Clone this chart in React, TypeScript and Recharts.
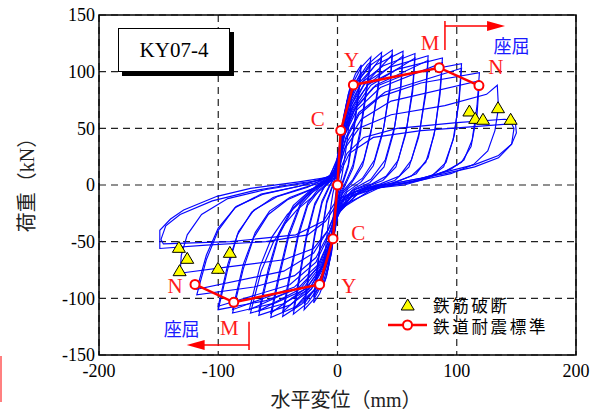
import React from 'react';
import {
  ComposedChart,
  Line,
  Scatter,
  XAxis,
  YAxis,
  CartesianGrid,
  ReferenceLine,
  ReferenceArea
} from 'recharts';

type P = [number, number];

const SERIF = '"Liberation Serif", "Times New Roman", "Noto Sans CJK JP", serif';
const CJK = '"Noto Sans CJK JP", "Noto Sans CJK SC", sans-serif';

// hysteresis cycles, displacement (mm) vs load (kN)
const cycles: P[][] = [
  [[0,0],[2,22],[4,40],[3,28],[1,8],[0,-4],[-2,-22],[-4,-40],[-3,-28],[-1,-8],[0,2]],
  [[0,2],[2,25],[5,55],[8,75],[6,52],[3,22],[0,-5],[-2,-25],[-5,-55],[-8,-75],[-6,-52],[-3,-22],[0,5]],
  [[0,5],[2,28],[5,58],[9,80],[13,92],[11,68],[8,38],[4,10],[0,-10],[-2,-30],[-5,-58],[-9,-80],[-13,-92],[-11,-66],[-8,-36],[-4,-8],[0,10]],
  [[0,10],[2,32],[5,60],[10,84],[15,98],[20,106],[17,78],[13,45],[9,18],[4,2],[0,-14],[-2,-34],[-5,-60],[-10,-83],[-15,-96],[-20,-104],[-17,-76],[-13,-42],[-9,-16],[-4,-1],[0,14]],
  [[0,8],[3,34],[7,62],[13,86],[20,100],[17,74],[13,42],[9,16],[4,0],[0,-12],[-3,-34],[-7,-62],[-13,-85],[-20,-99],[-17,-72],[-13,-40],[-9,-14],[-4,0],[0,12]],
  [[0,14],[2,35],[6,64],[12,88],[20,104],[28,113],[24,84],[19,48],[13,18],[7,3],[2,-8],[0,-20],[-2,-38],[-6,-64],[-12,-86],[-20,-101],[-28,-110],[-24,-80],[-19,-45],[-13,-16],[-7,-2],[-2,8],[0,20]],
  [[0,12],[3,36],[8,64],[15,88],[28,108],[24,80],[19,44],[13,15],[7,1],[2,-10],[0,-18],[-3,-38],[-8,-64],[-15,-86],[-28,-105],[-24,-76],[-19,-42],[-13,-14],[-7,-1],[-2,8],[0,16]],
  [[0,18],[3,40],[8,68],[15,90],[25,106],[37,117],[34,88],[29,52],[22,22],[13,5],[5,-5],[1,-15],[0,-24],[-3,-42],[-8,-68],[-15,-89],[-25,-104],[-37,-114],[-32,-84],[-26,-47],[-19,-18],[-12,-3],[-5,5],[-1,14],[0,24]],
  [[0,16],[4,40],[10,66],[20,90],[37,113],[34,84],[28,46],[21,17],[12,2],[4,-8],[0,-22],[-4,-42],[-10,-66],[-20,-89],[-37,-110],[-32,-80],[-26,-44],[-19,-16],[-11,-2],[-4,8],[0,22]],
  [[0,22],[3,42],[8,68],[16,90],[28,106],[46,119],[44,88],[39,52],[31,22],[21,6],[9,-3],[2,-14],[0,-26],[-3,-44],[-9,-70],[-17,-90],[-30,-105],[-46,-116],[-40,-82],[-33,-46],[-25,-18],[-15,-4],[-6,4],[-1,14],[0,24]],
  [[0,20],[4,40],[11,66],[22,88],[46,115],[44,84],[38,46],[30,17],[20,3],[8,-6],[0,-24],[-4,-44],[-11,-68],[-22,-89],[-46,-112],[-40,-78],[-33,-43],[-25,-16],[-15,-2],[-5,6],[0,22]],
  [[0,24],[3,44],[9,70],[18,90],[32,106],[55,118],[53,88],[48,52],[40,22],[28,5],[14,-3],[3,-14],[0,-28],[-3,-46],[-10,-72],[-19,-92],[-34,-107],[-56,-117],[-49,-82],[-41,-46],[-31,-18],[-19,-4],[-8,4],[-1,16],[0,26]],
  [[0,22],[4,42],[12,66],[25,88],[55,114],[53,84],[47,46],[39,16],[27,2],[12,-5],[0,-26],[-4,-46],[-12,-70],[-25,-90],[-56,-113],[-49,-78],[-41,-43],[-31,-16],[-19,-2],[-7,6],[0,24]],
  [[0,25],[4,46],[10,70],[20,90],[38,105],[65,116],[63,86],[58,50],[51,22],[41,8],[29,1],[15,-4],[4,-14],[0,-28],[-4,-48],[-11,-72],[-22,-92],[-40,-106],[-66,-115],[-58,-78],[-49,-44],[-37,-20],[-23,-6],[-10,3],[-2,14],[0,24]],
  [[0,23],[5,44],[13,66],[28,88],[65,112],[63,82],[57,44],[49,16],[38,4],[26,-1],[14,-6],[0,-26],[-5,-46],[-13,-70],[-28,-90],[-66,-111],[-58,-74],[-49,-42],[-37,-18],[-22,-4],[-8,5],[0,22]],
  [[0,24],[4,46],[11,70],[23,90],[44,104],[76,114],[74,84],[69,48],[62,22],[52,8],[36,1],[19,-4],[6,-12],[0,-28],[-4,-48],[-12,-72],[-24,-92],[-46,-105],[-73,-113],[-64,-76],[-54,-51],[-44,-34],[-34,-22],[-17,-7],[-5,4],[0,20]],
  [[0,22],[5,44],[14,66],[32,88],[76,110],[74,80],[68,42],[60,16],[48,4],[33,-1],[18,-6],[0,-26],[-5,-46],[-14,-70],[-32,-90],[-74,-110],[-65,-72],[-55,-46],[-42,-26],[-26,-10],[-8,3],[0,18]],
  [[0,22],[5,46],[13,70],[26,89],[50,102],[88,112],[86,84],[82,50],[76,24],[66,10],[48,2],[26,-2],[8,-12],[0,-28],[-5,-48],[-13,-72],[-27,-92],[-52,-104],[-88,-113],[-79,-74],[-70,-46],[-58,-26],[-42,-13],[-22,-4],[-6,4],[0,18]],
  [[0,20],[6,44],[16,66],[36,86],[88,108],[86,80],[81,44],[74,20],[62,8],[44,1],[22,-3],[0,-25],[-6,-46],[-16,-70],[-36,-90],[-88,-110],[-79,-70],[-69,-42],[-57,-23],[-40,-11],[-20,-3],[0,14]],
  [[0,18],[6,44],[15,68],[30,86],[58,98],[104,107],[102,78],[98,44],[91,20],[80,9],[60,2],[35,-2],[12,-10],[0,-26],[-6,-46],[-15,-70],[-30,-90],[-60,-102],[-100,-110],[-92,-74],[-84,-44],[-72,-24],[-54,-11],[-30,-3],[-8,4],[0,14]],
  [[0,16],[7,42],[18,64],[40,82],[104,103],[102,74],[97,40],[89,16],[76,6],[56,0],[30,-3],[0,-23],[-7,-44],[-18,-68],[-40,-88],[-100,-107],[-92,-70],[-83,-41],[-70,-22],[-50,-10],[-25,-2],[0,12]],
  [[0,14],[7,40],[18,62],[36,78],[70,90],[119,99],[117,70],[113,40],[106,22],[95,14],[75,6],[45,0],[14,-8],[0,-22],[-7,-42],[-18,-64],[-36,-80],[-70,-90],[-118,-97],[-110,-66],[-100,-40],[-86,-20],[-64,-8],[-36,-2],[-10,4],[0,10]],
  [[0,12],[8,38],[20,58],[45,74],[119,92],[117,62],[112,34],[104,20],[90,12],[68,4],[36,-2],[0,-20],[-8,-40],[-20,-60],[-45,-76],[-118,-92],[-110,-62],[-100,-38],[-85,-19],[-62,-8],[-32,-1],[0,10]],
  [[0,10],[6,32],[18,50],[45,62],[90,70],[125,80],[134,88],[135,68],[132,48],[126,30],[114,18],[95,10],[60,2],[25,-4],[4,-14],[0,-20],[-8,-40],[-20,-56],[-45,-66],[-90,-72],[-126,-77],[-132,-78],[-131,-62],[-126,-44],[-114,-26],[-92,-12],[-60,-4],[-25,2],[0,8]],
  [[0,8],[8,28],[22,42],[50,50],[100,55],[140,58],[149,57],[150,46],[146,36],[135,26],[115,18],[100,14],[70,6],[40,0],[15,-6],[3,-12],[0,-16],[-10,-32],[-25,-44],[-60,-50],[-110,-53],[-149,-56],[-149,-40],[-140,-30],[-129,-22],[-101,-10],[-73,-3],[-31,3],[0,8]],
  [[0,6],[10,28],[30,42],[70,48],[120,52],[146,54],[148,50],[146,36],[135,24],[115,16],[90,10],[50,2],[15,-6],[0,-12],[-12,-32],[-35,-44],[-90,-50],[-146,-52],[-148,-48],[-144,-36],[-132,-26],[-105,-14],[-70,-5],[-30,2],[0,6]]
];

// 鉄道耐震標準 skeleton: N-, M-, Y-, C-, 0, C+, Y+, M+, N+
const skeleton: P[] = [[-119.5,-87.7],[-87,-103.5],[-15,-87.7],[-3.8,-47.4],[0,0],[2.7,48],[13.3,88.3],[85.3,103.5],[118.6,87.7]];

// 鉄筋破断 markers
const rupture: P[] = [[110.6,65.3],[115.5,58.8],[122,58],[134.6,68.2],[145.2,58],[-133,-55],[-126,-64.7],[-132.4,-75.6],[-90.3,-59.4],[-100.2,-73.5]];

const pointLabels = [
  { x: -16.6, y: 58.5, t: 'C' }, { x: 11.9, y: 110.3, t: 'Y' }, { x: 77.6, y: 125.3, t: 'M' }, { x: 132.7, y: 104.5, t: 'N' },
  { x: 17.4, y: -42.6, t: 'C' }, { x: 9.6, y: -89.1, t: 'Y' }, { x: -136.3, y: -89.1, t: 'N' }, { x: -90.7, y: -125.9, t: 'M' }
];
const bucklingLabels = [{ x: 146, y: 123.5, t: '座屈' }, { x: -130.7, y: -125.9, t: '座屈' }];
const arrowHeads = [{ x: 140.5, y: 140.3, dir: 1 }, { x: -126.5, y: -141.2, dir: -1 }];

const xTicks = [-200, -100, 0, 100, 200];
const yTicks = [-150, -100, -50, 0, 50, 100, 150];

const toRows = (pts: P[]) => pts.map(([x, y]) => ({ x, y }));

const Triangle = (props: any) => {
  const { cx, cy } = props;
  if (cx == null || cy == null) return null;
  return <polygon points={`${cx},${cy - 6} ${cx - 6.5},${cy + 5} ${cx + 6.5},${cy + 5}`} fill="#ffff00" stroke="#000" strokeWidth={1} />;
};

const LegendBox = () => (
  <svg width={220} height={46} style={{ position: 'absolute', left: 380, top: 293 }}>
    <polygon points="27.7,6 21.2,17 34.2,17" fill="#ffff00" stroke="#000" strokeWidth={1} />
    <text x={53} y={11.5} dominantBaseline="central" fontSize={16.5} letterSpacing={2.7} fontFamily={CJK} fill="#000">鉄筋破断</text>
    <line x1={8} y1={32} x2={47} y2={32} stroke="#ff0000" strokeWidth={2.5} />
    <circle cx={27.5} cy={32} r={4.5} fill="#fff" stroke="#ff0000" strokeWidth={2} />
    <text x={53} y={33} dominantBaseline="central" fontSize={16.5} letterSpacing={2.7} fontFamily={CJK} fill="#000">鉄道耐震標準</text>
  </svg>
);

export default function App() {
  return (
    <div style={{ position: 'absolute', left: 0, top: 0, width: 605, height: 414, background: '#fff' }}>
      <ComposedChart width={605} height={414} margin={{ top: 15, right: 29, bottom: 29, left: 0 }}>
        <CartesianGrid stroke="#222" strokeWidth={1.2} strokeDasharray="7 5" />
        <XAxis type="number" dataKey="x" domain={[-200, 200]} ticks={xTicks} height={30} axisLine={false} tickLine={false} tickSize={0} tickMargin={9}
          tick={{ fontSize: 18, fill: '#000', fontFamily: SERIF }} allowDataOverflow />
        <YAxis type="number" dataKey="y" domain={[-150, 150]} ticks={yTicks} width={99} axisLine={false} tickLine={false} tickSize={0} tickMargin={4}
          tick={{ fontSize: 18, fill: '#000', fontFamily: SERIF }} allowDataOverflow />
        {cycles.map((c, i) => (
          <Line key={i} data={toRows(c)} dataKey="y" type="linear" stroke="#0505ff" strokeWidth={1.15} dot={false} isAnimationActive={false} legendType="none" />
        ))}
        <Line data={toRows(skeleton)} dataKey="y" type="linear" stroke="#ff0000" strokeWidth={2.5}
          dot={{ r: 4.5, fill: '#fff', stroke: '#ff0000', strokeWidth: 2 }} isAnimationActive={false} legendType="none" />
        <Scatter data={toRows(rupture)} shape={Triangle} isAnimationActive={false} legendType="none" />
        <Scatter data={pointLabels} isAnimationActive={false} legendType="none"
          shape={(p: any) => <text x={p.cx} y={p.cy} textAnchor="middle" dominantBaseline="central" fontSize={21} fontFamily={SERIF} fill="#ff1a1a">{p.payload.t}</text>} />
        <Scatter data={bucklingLabels} isAnimationActive={false} legendType="none"
          shape={(p: any) => <text x={p.cx} y={p.cy} textAnchor="middle" dominantBaseline="central" fontSize={18} fontFamily={CJK} fill="#1a1aff">{p.payload.t}</text>} />
        <Scatter data={arrowHeads} isAnimationActive={false} legendType="none"
          shape={(p: any) => <polygon points={`${p.cx},${p.cy} ${p.cx - p.payload.dir * 18},${p.cy - 5} ${p.cx - p.payload.dir * 18},${p.cy + 5}`} fill="#ff0000" />} />
        <ReferenceLine segment={[{ x: 90.1, y: 144.7 }, { x: 90.1, y: 119.1 }]} stroke="#ff0000" strokeWidth={1.5} />
        <ReferenceLine segment={[{ x: 90.1, y: 140.3 }, { x: 126, y: 140.3 }]} stroke="#ff0000" strokeWidth={1.5} />
        <ReferenceLine segment={[{ x: -74.2, y: -120.6 }, { x: -74.2, y: -145.6 }]} stroke="#ff0000" strokeWidth={1.5} />
        <ReferenceLine segment={[{ x: -74.2, y: -141.2 }, { x: -112, y: -141.2 }]} stroke="#ff0000" strokeWidth={1.5} />
        <ReferenceArea x1={-200} x2={200} y1={-150} y2={150} fill="none" stroke="#000" strokeWidth={1.5} />
      </ComposedChart>
      <LegendBox />
      <div style={{ position: 'absolute', left: 118, top: 28, width: 112, height: 44, boxSizing: 'border-box', border: '1px solid #000', background: '#fff',
        boxShadow: '4px 4px 0 #000', display: 'flex', alignItems: 'center', justifyContent: 'center', fontFamily: SERIF, fontSize: 21 }}>
        KY07-4
      </div>
      <div style={{ position: 'absolute', left: 346, top: 398, transform: 'translate(-50%, -50%)', whiteSpace: 'nowrap', fontFamily: SERIF, fontSize: 20, color: '#222' }}>
        水平変位（mm）
      </div>
      <div style={{ position: 'absolute', left: 25, top: 180, transform: 'translate(-50%, -50%) rotate(-90deg)', whiteSpace: 'nowrap', fontFamily: SERIF, fontSize: 20, color: '#222' }}>
        荷重（kN）
      </div>
      <div style={{ position: 'absolute', left: 0, top: 356, width: 1.5, height: 46, background: '#ff8080' }} />
    </div>
  );
}
